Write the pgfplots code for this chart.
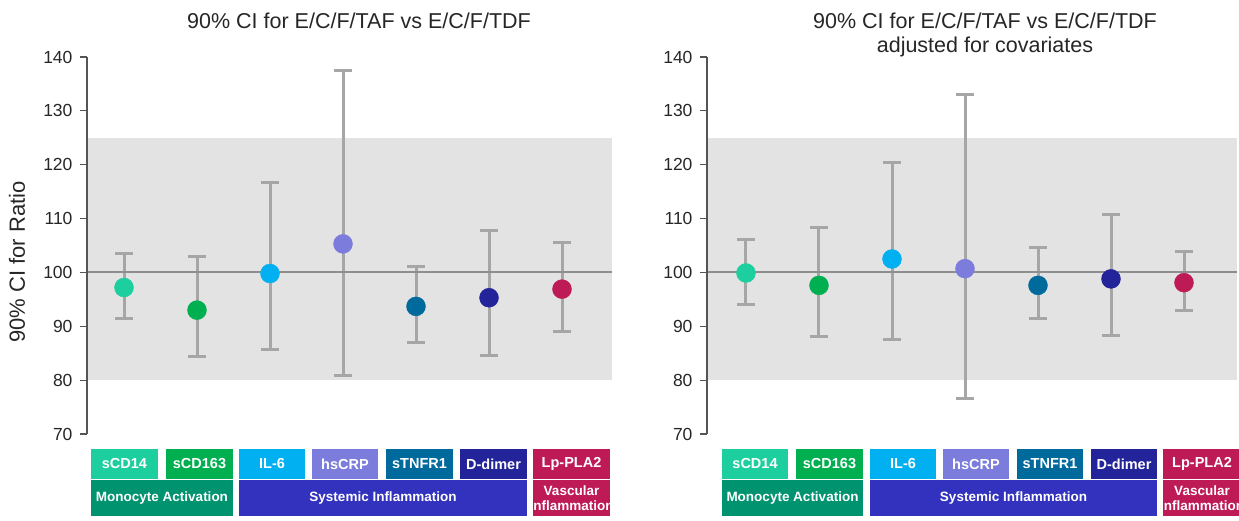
\documentclass[border=0pt]{standalone}
\usepackage{fontspec}
\setmainfont{Liberation Sans}
\usepackage{pgfplots}
\usepackage{pgfplotstable}
\pgfplotsset{compat=1.18}

\definecolor{cA}{HTML}{1DCF9F}
\definecolor{cB}{HTML}{00AF50}
\definecolor{cC}{HTML}{00B0F0}
\definecolor{cD}{HTML}{7C7CDC}
\definecolor{cE}{HTML}{006A9C}
\definecolor{cF}{HTML}{24249A}
\definecolor{cG}{HTML}{BE1A56}
\definecolor{mono}{HTML}{00936F}
\definecolor{syst}{HTML}{3232BE}
\definecolor{bandgray}{HTML}{E3E3E3}
\definecolor{errgray}{HTML}{A6A6A6}
\definecolor{refgray}{HTML}{8E8E8E}
\definecolor{axisgray}{HTML}{555555}
\definecolor{tickcol}{HTML}{262626}

\pgfplotstableread{
x y hi lo c
0 97.2 103.6 91.5 a
1 93.0 102.9 84.3 b
2 99.8 116.7 85.6 c
3 105.3 137.5 80.9 d
4 93.7 101.1 86.9 e
5 95.3 107.7 84.5 f
6 96.9 105.5 89.1 g
}\leftdata

\pgfplotstableread{
x y hi lo c
0 99.9 106.1 94.1 a
1 97.6 108.3 88.1 b
2 102.5 120.4 87.6 c
3 100.7 133.1 76.5 d
4 97.6 104.6 91.4 e
5 98.8 110.8 88.3 f
6 98.1 103.9 92.9 g
}\rightdata

\pgfplotsset{
  ciaxis/.style={
    anchor=south west, scale only axis, height=377pt,
    ymin=70, ymax=140, ytick={70,80,...,140},
    xtick=\empty, axis x line=none, axis y line*=left,
    y axis line style={draw=axisgray, line width=1.3pt},
    ytick style={draw=axisgray, line width=1.2pt},
    tick align=outside, major tick length=7pt,
    /pgf/number format/assume math mode=true,
    yticklabel style={font=\fontsize{17.5}{20}\selectfont, text=tickcol, xshift=-4pt},
    clip=false, axis on top,
  },
  errplot/.style={only marks, mark=none,
    error bars/.cd, y dir=both, y explicit, error mark=|,
    error bar style={line width=3pt, color=errgray},
    error mark options={line width=3pt, mark size=9pt, color=errgray}},
  dotplot/.style={scatter, only marks, scatter src=explicit symbolic, mark size=9.5pt,
    scatter/classes={
      a={mark=*,draw=cA,fill=cA}, b={mark=*,draw=cB,fill=cB},
      c={mark=*,draw=cC,fill=cC}, d={mark=*,draw=cD,fill=cD},
      e={mark=*,draw=cE,fill=cE}, f={mark=*,draw=cF,fill=cF},
      g={mark=*,draw=cG,fill=cG}}},
}

\newcommand{\cbox}[6]{\fill[#5] (#1pt,#3pt) rectangle node[text=white,font=\bfseries\fontsize{14.5}{15}\selectfont,align=center,inner sep=0pt] {#6} (#2pt,#4pt);}
\newcommand{\gbox}[6]{\fill[#5] (#1pt,#3pt) rectangle node[text=white,font=\bfseries\fontsize{13.5}{14.5}\selectfont,align=center,inner sep=0pt] {#6} (#2pt,#4pt);}

\begin{document}
\begin{tikzpicture}
\useasboundingbox (0,0) rectangle (1239pt,520pt);

% Left panel
\begin{axis}[ciaxis, at={(87pt,86pt)}, width=525pt, xmin=-0.507, xmax=6.685]
\fill[bandgray] (axis cs:-0.507,80) rectangle (axis cs:6.685,125);
\addplot[errplot] table[x=x, y=y, y error plus expr=\thisrow{hi}-\thisrow{y}, y error minus expr=\thisrow{y}-\thisrow{lo}] {\leftdata};
\draw[refgray, line width=2pt] (axis cs:-0.507,100) -- (axis cs:6.685,100);
\addplot[dotplot] table[x=x, y=y, meta=c] {\leftdata};
\end{axis}

% Right panel
\begin{axis}[ciaxis, at={(707pt,86pt)}, width=530pt, xmin=-0.534, xmax=6.726]
\fill[bandgray] (axis cs:-0.534,80) rectangle (axis cs:6.726,125);
\addplot[errplot] table[x=x, y=y, y error plus expr=\thisrow{hi}-\thisrow{y}, y error minus expr=\thisrow{y}-\thisrow{lo}] {\rightdata};
\draw[refgray, line width=2pt] (axis cs:-0.534,100) -- (axis cs:6.726,100);
\addplot[dotplot] table[x=x, y=y, meta=c] {\rightdata};
\end{axis}

% Titles and y label
\node[font=\fontsize{21.5}{26}\selectfont, text=tickcol] at (359pt,499pt) {90\% CI for E/C/F/TAF vs E/C/F/TDF};
\node[font=\fontsize{21.5}{26}\selectfont, text=tickcol] at (985pt,499pt) {90\% CI for E/C/F/TAF vs E/C/F/TDF};
\node[font=\fontsize{21.5}{26}\selectfont, text=tickcol] at (985pt,473pt) {adjusted for covariates};
\node[rotate=90, font=\fontsize{22}{26}\selectfont, text=tickcol] at (17pt,258pt) {90\% CI for Ratio};

% Category boxes, left
\cbox{91}{158}{71}{41}{cA}{sCD14}
\cbox{166}{233}{71}{41}{cB}{sCD163}
\cbox{239}{305}{71}{41}{cC}{IL-6}
\cbox{312}{378}{71}{41}{cD}{hsCRP}
\cbox{386}{453}{71}{41}{cE}{sTNFR1}
\cbox{460}{527}{71}{41}{cF}{D-dimer}
\cbox{533}{610}{71}{41}{cG}{Lp-PLA2}
\gbox{91}{233}{40}{4}{mono}{Monocyte Activation}
\gbox{239}{527}{40}{4}{syst}{Systemic Inflammation}
\gbox{533}{610}{40}{4}{cG}{Vascular\\Inflammation}

% Category boxes, right
\cbox{722}{788}{71}{41}{cA}{sCD14}
\cbox{796}{863}{71}{41}{cB}{sCD163}
\cbox{870}{936}{71}{41}{cC}{IL-6}
\cbox{943}{1009}{71}{41}{cD}{hsCRP}
\cbox{1017}{1083}{71}{41}{cE}{sTNFR1}
\cbox{1091}{1157}{71}{41}{cF}{D-dimer}
\cbox{1163}{1241}{71}{41}{cG}{Lp-PLA2}
\gbox{722}{863}{40}{4}{mono}{Monocyte Activation}
\gbox{870}{1157}{40}{4}{syst}{Systemic Inflammation}
\gbox{1163}{1241}{40}{4}{cG}{Vascular\\Inflammation}
\end{tikzpicture}
\end{document}
